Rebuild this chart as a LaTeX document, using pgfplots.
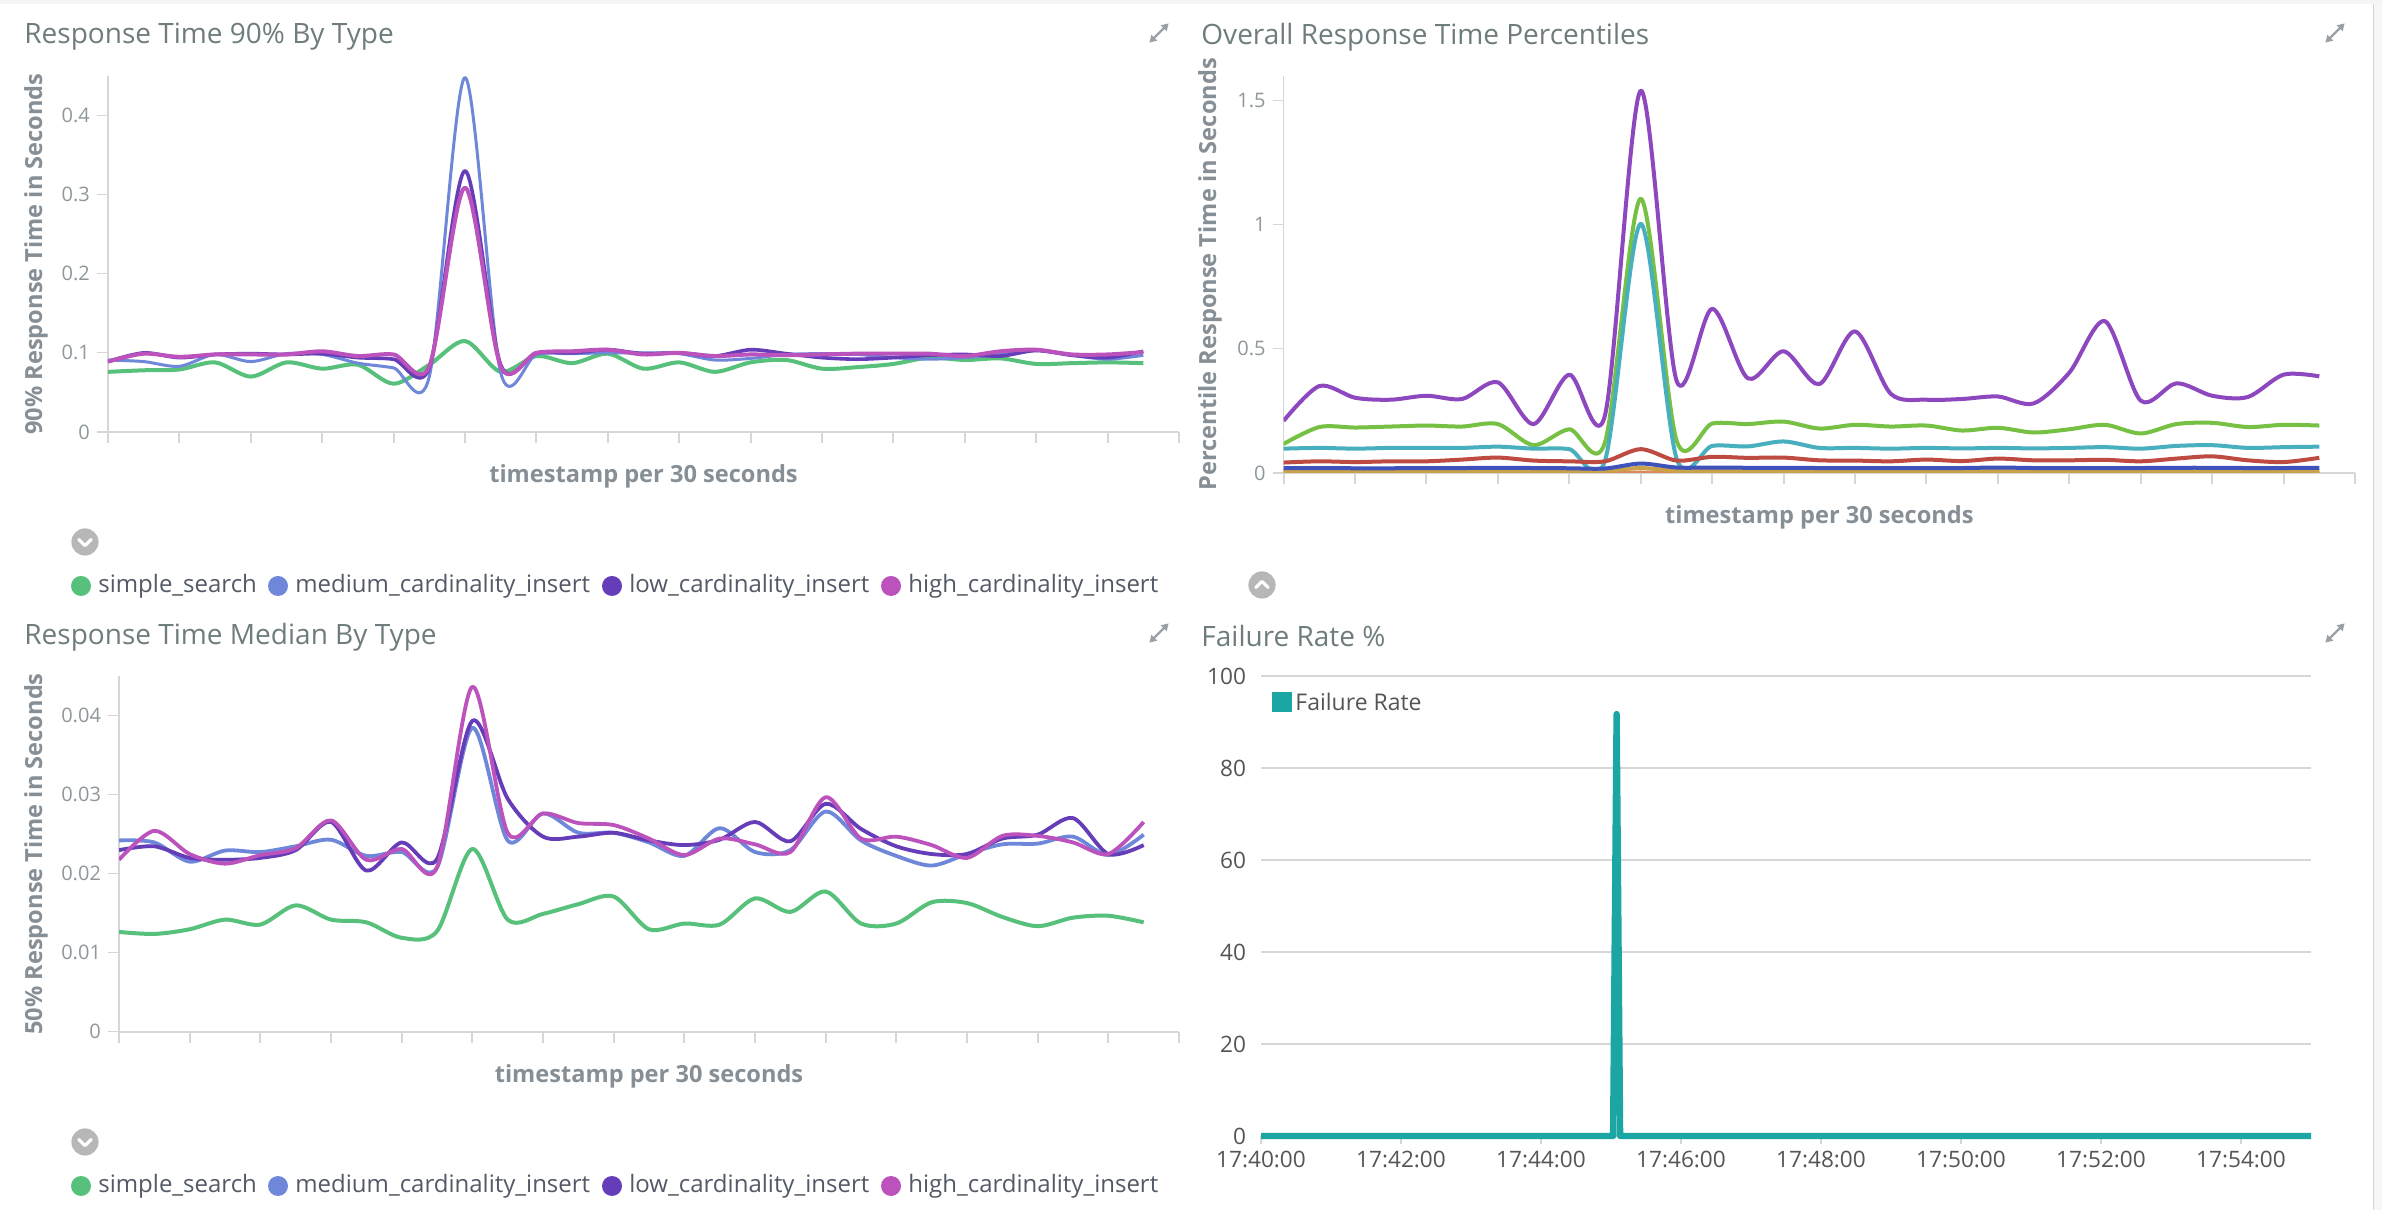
\documentclass[border=0pt]{standalone}
\usepackage{fontspec}
\setmainfont{Open Sans}
\usepackage{pgfplots}
\pgfplotsset{compat=1.18}
\usepackage{pgfplotstable}
\usetikzlibrary{arrows.meta}

\definecolor{cGreen}{HTML}{57C17B}
\definecolor{cBlue}{HTML}{6F87D8}
\definecolor{cPurple}{HTML}{663DB8}
\definecolor{cMagenta}{HTML}{BC52BC}
\definecolor{pPurple}{HTML}{8E48BF}
\definecolor{pGreen}{HTML}{76C043}
\definecolor{pTeal}{HTML}{48AFBE}
\definecolor{pRed}{HTML}{BE4B42}
\definecolor{pBlue}{HTML}{3F52BB}
\definecolor{pGold}{HTML}{C9A24A}
\definecolor{pOrange}{HTML}{DA8B5A}
\definecolor{fTeal}{HTML}{1BA6A3}
\definecolor{titleGray}{HTML}{6F7C7E}
\definecolor{labGray}{HTML}{878F96}
\definecolor{tickGray}{HTML}{8E979B}
\definecolor{axisGray}{HTML}{D6D6D6}
\definecolor{legText}{HTML}{535966}
\definecolor{darkTick}{HTML}{555555}
\definecolor{circGray}{HTML}{B7B7B7}
\definecolor{iconGray}{HTML}{9AA0A6}

% Response Time 90% By Type: t (min), simple_search, medium, low, high
\pgfplotstableread{
t ss med low high
0 0.076 0.091 0.089 0.089
0.5 0.078 0.089 0.100 0.099
1 0.079 0.083 0.094 0.095
1.5 0.088 0.098 0.098 0.098
2 0.070 0.089 0.099 0.098
2.5 0.088 0.099 0.098 0.098
3 0.080 0.098 0.099 0.102
3.5 0.085 0.087 0.094 0.096
4 0.061 0.081 0.092 0.098
4.5 0.085 0.070 0.081 0.083
5 0.115 0.448 0.330 0.309
5.5 0.076 0.075 0.085 0.083
6 0.096 0.098 0.100 0.100
6.5 0.087 0.099 0.100 0.102
7 0.099 0.100 0.104 0.104
7.5 0.080 0.100 0.099 0.098
8 0.088 0.099 0.100 0.100
8.5 0.076 0.091 0.096 0.096
9 0.088 0.093 0.104 0.098
9.5 0.091 0.098 0.099 0.097
10 0.080 0.099 0.094 0.098
10.5 0.082 0.098 0.092 0.099
11 0.086 0.094 0.094 0.099
11.5 0.094 0.092 0.097 0.099
12 0.091 0.094 0.098 0.096
12.5 0.093 0.098 0.096 0.102
13 0.086 0.103 0.103 0.104
13.5 0.087 0.097 0.097 0.098
14 0.088 0.092 0.094 0.098
14.5 0.087 0.097 0.102 0.101
}\nineTable

% Overall Response Time Percentiles
\pgfplotstableread{
t p99 p95 p75 p50 p25 p5 p1
0 0.210 0.117 0.098 0.042 0.020 0.008 0.002
0.5 0.350 0.185 0.101 0.047 0.020 0.008 0.002
1 0.303 0.183 0.098 0.044 0.019 0.008 0.002
1.5 0.295 0.187 0.101 0.047 0.019 0.008 0.002
2 0.311 0.191 0.101 0.047 0.020 0.008 0.002
2.5 0.298 0.187 0.101 0.054 0.020 0.008 0.002
3 0.365 0.197 0.106 0.062 0.021 0.009 0.002
3.5 0.197 0.112 0.098 0.050 0.020 0.008 0.002
4 0.396 0.176 0.096 0.047 0.019 0.008 0.002
4.5 0.233 0.124 0.050 0.047 0.018 0.008 0.002
5 1.539 1.104 1.003 0.096 0.038 0.020 0.004
5.5 0.373 0.132 0.060 0.050 0.022 0.009 0.002
6 0.661 0.199 0.109 0.065 0.022 0.009 0.002
6.5 0.381 0.197 0.107 0.061 0.021 0.008 0.002
7 0.490 0.207 0.127 0.062 0.021 0.008 0.002
7.5 0.358 0.179 0.101 0.051 0.020 0.008 0.002
8 0.570 0.194 0.101 0.050 0.020 0.008 0.002
8.5 0.319 0.187 0.098 0.047 0.020 0.008 0.002
9 0.295 0.191 0.101 0.054 0.020 0.008 0.002
9.5 0.298 0.171 0.099 0.048 0.020 0.008 0.002
10 0.308 0.182 0.101 0.058 0.022 0.008 0.002
10.5 0.280 0.163 0.099 0.051 0.020 0.008 0.002
11 0.404 0.176 0.101 0.051 0.020 0.008 0.002
11.5 0.611 0.194 0.104 0.053 0.020 0.008 0.002
12 0.291 0.159 0.098 0.047 0.020 0.008 0.002
12.5 0.361 0.197 0.109 0.058 0.021 0.008 0.002
13 0.311 0.202 0.112 0.067 0.021 0.008 0.002
13.5 0.306 0.185 0.101 0.051 0.020 0.008 0.002
14 0.396 0.194 0.104 0.044 0.020 0.008 0.002
14.5 0.389 0.191 0.106 0.061 0.021 0.008 0.002
}\pctTable

% Response Time Median By Type
\pgfplotstableread{
t ss med low high
0 0.01262 0.02421 0.02298 0.02176
0.5 0.01237 0.02396 0.02347 0.02543
1 0.01296 0.02152 0.02200 0.02249
1.5 0.01418 0.02293 0.02176 0.02127
2 0.01355 0.02274 0.02200 0.02235
2.5 0.01599 0.02347 0.02298 0.02323
3 0.01418 0.02430 0.02655 0.02675
3.5 0.01384 0.02225 0.02039 0.02176
4 0.01188 0.02274 0.02396 0.02313
4.5 0.01271 0.02078 0.02186 0.02078
5 0.02313 0.03848 0.03936 0.04367
5.5 0.01418 0.02421 0.02950 0.02518
6 0.01491 0.02763 0.02469 0.02763
6.5 0.01614 0.02518 0.02469 0.02641
7 0.01711 0.02518 0.02518 0.02616
7.5 0.01296 0.02396 0.02421 0.02445
8 0.01369 0.02225 0.02362 0.02235
8.5 0.01355 0.02577 0.02430 0.02445
9 0.01687 0.02274 0.02655 0.02372
9.5 0.01516 0.02298 0.02411 0.02274
10 0.01775 0.02787 0.02885 0.02968
10.5 0.01369 0.02421 0.02567 0.02445
11 0.01369 0.02225 0.02347 0.02469
11.5 0.01638 0.02103 0.02249 0.02362
12 0.01628 0.02249 0.02249 0.02200
12.5 0.01452 0.02372 0.02445 0.02479
13 0.01335 0.02381 0.02494 0.02479
13.5 0.01443 0.02469 0.02704 0.02396
14 0.01467 0.02235 0.02249 0.02249
14.5 0.01384 0.02494 0.02362 0.02655
}\medTable

% Failure Rate %
\pgfplotstableread{
t fr
0 0
5.03 0
5.08 91.8
5.13 0
15 0
}\failTable

\pgfplotsset{
  kib/.style={
    scale only axis,
    xmin=0, xmax=15, ymin=0,
    axis x line*=bottom, axis y line*=left,
    x axis line style={draw=axisGray, line width=1pt, -},
    y axis line style={draw=axisGray, line width=0.6pt, -},
    xtick={0,1,...,15}, xticklabels={},
    tick align=outside, major tick length=5.5pt,
    xtick style={draw=axisGray, line width=1pt},
    ytick style={draw=axisGray, line width=0.6pt},
    scaled y ticks=false,
    /pgf/number format/assume math mode=true,
    /pgf/number format/fixed,
    /pgf/number format/precision=2,
    yticklabel style={font=\fontsize{10}{12}\selectfont, text=tickGray},
    xlabel={timestamp per 30 seconds},
    every axis plot/.append style={smooth, no markers, line join=round},
  },
  labx/.style={every axis x label/.style={at={(axis description cs:0.5,#1)}, anchor=center, font=\bfseries\fontsize{11.8}{14}\selectfont, text=labGray}},
  laby/.style={every axis y label/.style={at={(axis description cs:#1,0.5)}, rotate=90, anchor=center, font=\bfseries\fontsize{11.8}{14}\selectfont, text=labGray}},
}

\newcommand{\legitem}[4]{%
  \fill[#3] (#1,#2) circle (5pt);
  \node[anchor=west, inner sep=0pt, text=legText, font=\fontsize{12}{14}\selectfont] at ([xshift=8.5pt]#1,#2) {#4};
}
\newcommand{\expandicon}[2]{%
  \draw[iconGray, line width=1.1pt, {Triangle[length=3.5pt,width=4pt]}-{Triangle[length=3.5pt,width=4pt]}]
    ([xshift=-4.8pt,yshift=-4.8pt]#1,#2) -- ([xshift=4.8pt,yshift=4.8pt]#1,#2);
}

\begin{document}
\begin{tikzpicture}
\path[use as bounding box] (0pt,0pt) rectangle (1191pt,605pt);
\fill[white] (0pt,0pt) rectangle (1191pt,605pt);
\fill[gray!8] (0pt,603pt) rectangle (1191pt,605pt);
\fill[gray!6] (1187pt,0pt) rectangle (1191pt,603pt);
\draw[axisGray, line width=0.6pt] (1186.7pt,0pt) -- (1186.7pt,603pt);

% ---------- Panel 1 ----------
\begin{axis}[kib,
  at={(54pt,389pt)}, anchor=south west,
  width=535.5pt, height=178pt,
  ymax=0.45, ytick={0,0.1,0.2,0.3,0.4},
  ylabel={90\% Response Time in Seconds},
  laby=-0.0672, labx=-0.1236,
]
\addplot[cGreen, line width=2pt] table[x=t, y=ss] {\nineTable};
\addplot[cBlue, line width=1.5pt] table[x=t, y=med] {\nineTable};
\addplot[cPurple, line width=1.8pt] table[x=t, y=low] {\nineTable};
\addplot[cMagenta, line width=2pt] table[x=t, y=high] {\nineTable};
\end{axis}

% ---------- Panel 2 ----------
\begin{axis}[kib,
  at={(641.8pt,368.5pt)}, anchor=south west,
  width=535.7pt, height=198.7pt,
  ymax=1.6, ytick={0,0.5,1,1.5},
  ylabel={Percentile Response Time in Seconds},
  laby=-0.0687, labx=-0.1107,
]
\addplot[pPurple, line width=2pt] table[x=t, y=p99] {\pctTable};
\addplot[pGreen, line width=2pt] table[x=t, y=p95] {\pctTable};
\addplot[pTeal, line width=2pt] table[x=t, y=p75] {\pctTable};
\addplot[pRed, line width=2pt] table[x=t, y=p50] {\pctTable};
\addplot[pOrange, line width=1.5pt] table[x=t, y=p1] {\pctTable};
\addplot[pGold, line width=2pt] table[x=t, y=p5] {\pctTable};
\addplot[pBlue, line width=2pt] table[x=t, y=p25] {\pctTable};
\end{axis}

% ---------- Panel 3 ----------
\begin{axis}[kib,
  at={(59.5pt,89.2pt)}, anchor=south west,
  width=530pt, height=177.65pt,
  ymax=0.045, ytick={0,0.01,0.02,0.03,0.04},
  ylabel={50\% Response Time in Seconds},
  laby=-0.0783, labx=-0.125,
]
\addplot[cGreen, line width=2pt] table[x=t, y=ss] {\medTable};
\addplot[cBlue, line width=1.9pt] table[x=t, y=med] {\medTable};
\addplot[cPurple, line width=1.9pt] table[x=t, y=low] {\medTable};
\addplot[cMagenta, line width=1.9pt] table[x=t, y=high] {\medTable};
\end{axis}

% ---------- Panel 4 ----------
\begin{axis}[
  scale only axis,
  at={(630.5pt,37pt)}, anchor=south west,
  width=525pt, height=229.8pt,
  xmin=0, xmax=15, ymin=0, ymax=100,
  axis x line*=bottom, axis y line*=left,
  x axis line style={draw=none},
  y axis line style={draw=none},
  ytick={0,20,40,60,80,100},
  xtick={0,2,4,6,8,10,12,14},
  xticklabels={17:40:00,17:42:00,17:44:00,17:46:00,17:48:00,17:50:00,17:52:00,17:54:00},
  tick align=outside, major tick length=4pt,
  xtick style={draw=axisGray, line width=1pt},
  ytick style={draw=none},
  ymajorgrids, grid style={draw=axisGray, line width=1pt},
  /pgf/number format/assume math mode=true,
  ticklabel style={font=\fontsize{11.3}{13}\selectfont, text=darkTick},
  clip=false,
]
\addplot[fTeal, line width=3.2pt, line join=round, no markers] table[x=t, y=fr] {\failTable};
\end{axis}

% ---------- Titles ----------
\node[anchor=west, inner sep=0pt, text=titleGray, font=\fontsize{14}{16}\selectfont] at (12pt,586.5pt) {Response Time 90\% By Type};
\node[anchor=west, inner sep=0pt, text=titleGray, font=\fontsize{14}{16}\selectfont] at (600.5pt,586.5pt) {Overall Response Time Percentiles};
\node[anchor=west, inner sep=0pt, text=titleGray, font=\fontsize{14}{16}\selectfont] at (12pt,286.5pt) {Response Time Median By Type};
\node[anchor=west, inner sep=0pt, text=titleGray, font=\fontsize{14}{16}\selectfont] at (600.5pt,287pt) {Failure Rate \%};

% ---------- Expand icons ----------
\expandicon{579.5pt}{588.5pt}
\expandicon{1167.5pt}{588.5pt}
\expandicon{579.5pt}{288.5pt}
\expandicon{1167.5pt}{288.5pt}

% ---------- Collapse buttons ----------
\fill[circGray] (42.5pt,334pt) circle (6.8pt);
\draw[white, line width=1.6pt, line cap=round, line join=round] (39.4pt,335.3pt) -- (42.5pt,332.2pt) -- (45.6pt,335.3pt);
\fill[circGray] (42.5pt,34pt) circle (6.8pt);
\draw[white, line width=1.6pt, line cap=round, line join=round] (39.4pt,35.3pt) -- (42.5pt,32.2pt) -- (45.6pt,35.3pt);
\fill[circGray] (631pt,312.5pt) circle (6.8pt);
\draw[white, line width=1.6pt, line cap=round, line join=round] (627.9pt,311.2pt) -- (631pt,314.3pt) -- (634.1pt,311.2pt);

% ---------- Legends ----------
\legitem{40.5pt}{312pt}{cGreen}{simple\_search}
\legitem{139pt}{312pt}{cBlue}{medium\_cardinality\_insert}
\legitem{306pt}{312pt}{cPurple}{low\_cardinality\_insert}
\legitem{445.5pt}{312pt}{cMagenta}{high\_cardinality\_insert}
\legitem{40.5pt}{12pt}{cGreen}{simple\_search}
\legitem{139pt}{12pt}{cBlue}{medium\_cardinality\_insert}
\legitem{306pt}{12pt}{cPurple}{low\_cardinality\_insert}
\legitem{445.5pt}{12pt}{cMagenta}{high\_cardinality\_insert}

\fill[fTeal] (636pt,249pt) rectangle (646pt,259pt);
\node[anchor=west, inner sep=0pt, text=darkTick, font=\fontsize{11.5}{13}\selectfont] at (647.5pt,254pt) {Failure Rate};
\end{tikzpicture}
\end{document}
